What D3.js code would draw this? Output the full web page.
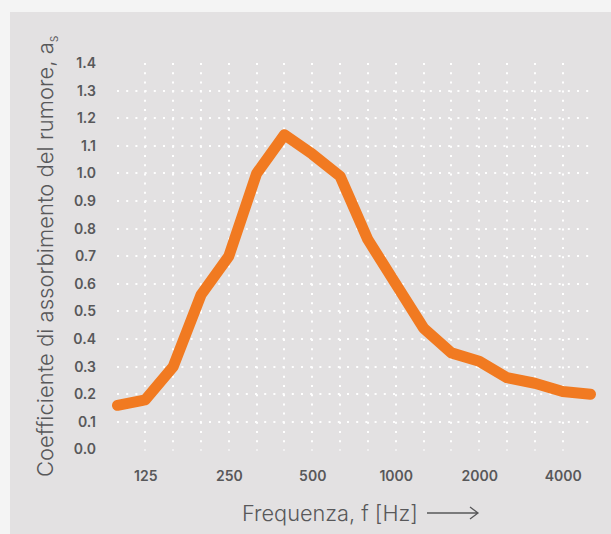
<!DOCTYPE html>
<html>
<head>
<meta charset="utf-8">
<script src="https://cdn.jsdelivr.net/npm/d3@7"></script>
<style>
  body { margin: 0; background: #f4f4f4; }
  svg { display: block; }
</style>
</head>
<body>
<div id="chart"></div>
<script>
// third-octave bands, Hz
const freqs = ["100", "125", "160", "200", "250", "315", "400", "500", "630",
               "800", "1000", "1250", "1600", "2000", "2500", "3150", "4000", "5000"];
// sound absorption coefficient
const alphaS = [0.16, 0.18, 0.30, 0.56, 0.70, 1.00, 1.14, 1.07, 0.99,
                0.76, 0.60, 0.44, 0.35, 0.32, 0.26, 0.24, 0.21, 0.20];
const xTickLabels = ["125", "250", "500", "1000", "2000", "4000"];
const yTicks = [0.0, 0.1, 0.2, 0.3, 0.4, 0.5, 0.6, 0.7, 0.8, 0.9, 1.0, 1.1, 1.2, 1.3, 1.4];

const W = 611, H = 534;
const textColor = "#58585a";
const font = "Inter, 'Open Sans', sans-serif";

const svg = d3.select("#chart")
  .append("svg")
    .attr("width", W)
    .attr("height", H);

svg.append("rect")
  .attr("x", 0).attr("y", 0)
  .attr("width", W).attr("height", H)
  .attr("fill", "#f4f4f4");

// grey panel
svg.append("rect")
  .attr("x", 10).attr("y", 12)
  .attr("width", W - 10).attr("height", H - 12)
  .attr("fill", "#e3e1e2");

const x = d3.scalePoint()
  .domain(freqs)
  .range([117.5, 590.5]);

const y = d3.scaleLinear()
  .domain([0, 1.4])
  .range([449.5, 63]);

// dotted grid
const grid = svg.append("g")
  .attr("stroke", "#ffffff")
  .attr("stroke-width", 2)
  .attr("stroke-dasharray", "2,7.2");

grid.selectAll("line.h")
  .data(yTicks.filter(d => d > 0 && d < 1.35))
  .enter()
  .append("line")
    .attr("x1", 117)
    .attr("x2", 594)
    .attr("y1", d => Math.round(y(d)))
    .attr("y2", d => Math.round(y(d)));

grid.selectAll("line.v")
  .data(freqs.slice(1, -1))
  .enter()
  .append("line")
    .attr("x1", d => Math.round(x(d)))
    .attr("x2", d => Math.round(x(d)))
    .attr("y1", y(1.4))
    .attr("y2", y(0) + 1);

// y axis
const yAxis = svg.append("g")
  .attr("transform", "translate(96,0)")
  .call(d3.axisLeft(y).tickValues(yTicks).tickSize(0).tickPadding(0).tickFormat(d3.format(".1f")));
yAxis.select(".domain").remove();
yAxis.selectAll("text")
  .attr("fill", textColor)
  .style("font-family", font)
  .style("font-size", "14px")
  .style("font-weight", 600);

// x axis
const xAxis = svg.append("g")
  .attr("transform", "translate(0,471)")
  .call(d3.axisBottom(x).tickValues(xTickLabels).tickSize(0).tickPadding(0));
xAxis.select(".domain").remove();
xAxis.selectAll("text")
  .attr("fill", textColor)
  .style("font-family", font)
  .style("font-size", "14px")
  .style("font-weight", 600);

// curve
const line = d3.line()
  .x((d, i) => x(freqs[i]))
  .y(d => y(d));

svg.append("path")
  .datum(alphaS)
  .attr("d", line)
  .attr("fill", "none")
  .attr("stroke", "#f17a21")
  .attr("stroke-width", 11)
  .attr("stroke-linecap", "round")
  .attr("stroke-linejoin", "round");

// axis titles, sized to the width they take in the original
function fitFont(sel, target) {
  const len = sel.node().getComputedTextLength();
  const size = parseFloat(sel.style("font-size"));
  sel.style("font-size", (size * target / len) + "px");
}

const xTitle = svg.append("text")
  .attr("x", 242)
  .attr("y", 521)
  .attr("fill", textColor)
  .style("font-family", font)
  .style("font-size", "19px")
  .style("font-weight", 300)
  .text("Frequenza, f [Hz]");
fitFont(xTitle, 176);

svg.append("path")
  .attr("d", "M427,513 H478 M470,507 L478,513 L470,519")
  .attr("fill", "none")
  .attr("stroke", textColor)
  .attr("stroke-width", 1.3);

const yTitle = svg.append("text")
  .attr("transform", "translate(53,477) rotate(-90)")
  .attr("fill", textColor)
  .style("font-family", font)
  .style("font-size", "19px")
  .style("font-weight", 300)
  .text("Coefficiente di assorbimento del rumore, a");
fitFont(yTitle, 435);
yTitle.append("tspan")
  .attr("dy", 5)
  .style("font-size", "13px")
  .text("s");
</script>
</body>
</html>
